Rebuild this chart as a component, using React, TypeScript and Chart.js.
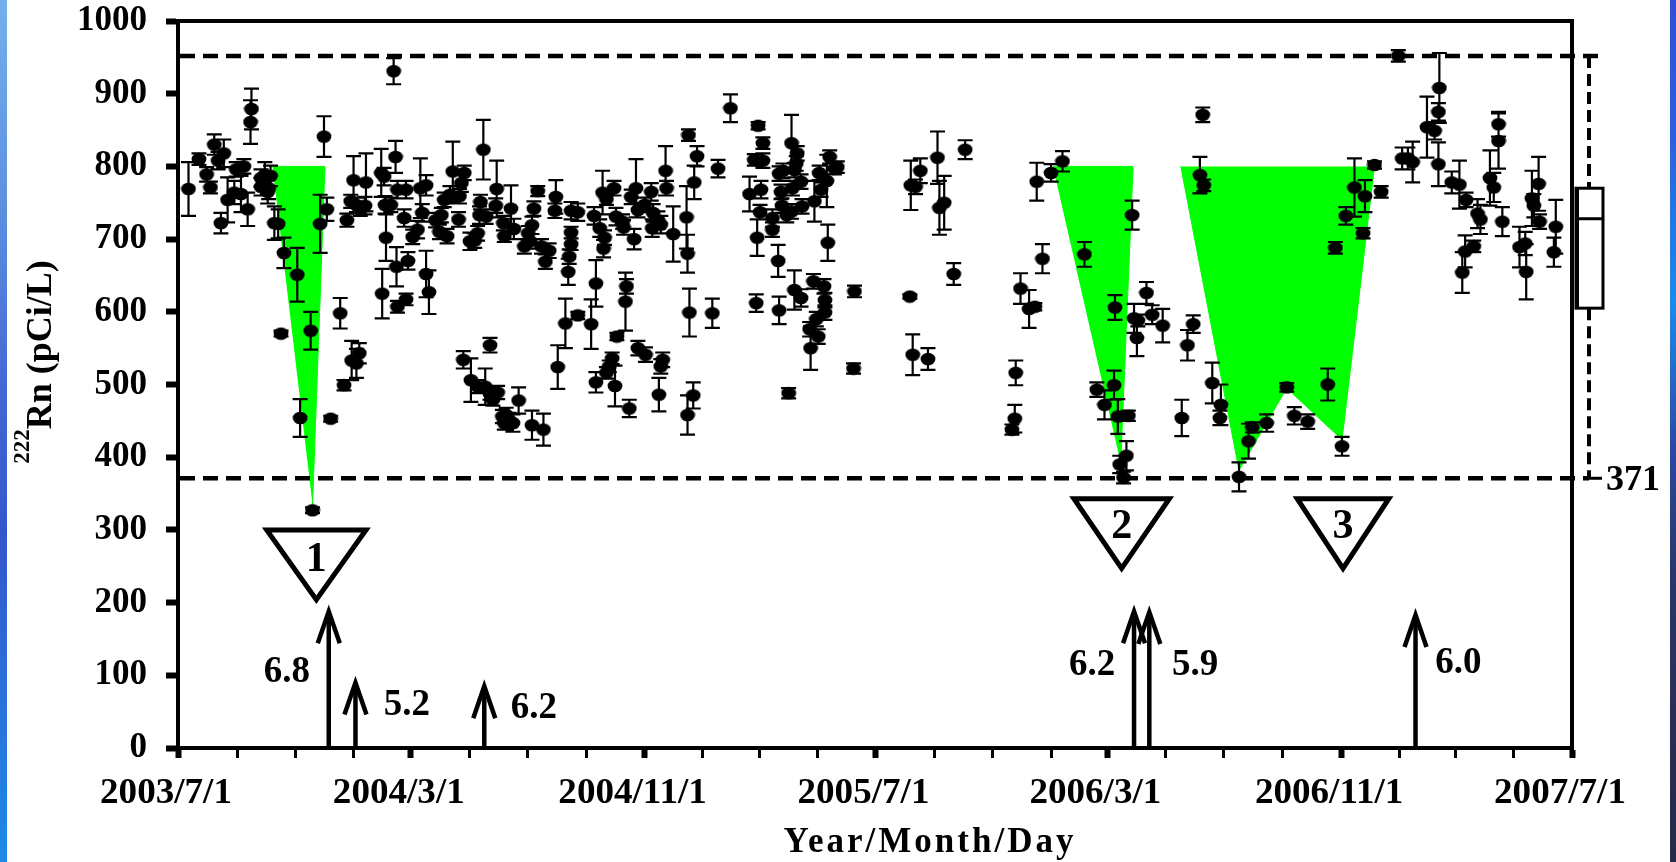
import React, { useEffect, useRef } from "react";
import { Chart, registerables } from "chart.js";

Chart.register(...registerables);

const SERIF = '"Liberation Serif", "Times New Roman", serif';
const W = 1676;
const H = 862;

// ---------- axis definitions ----------
const START_UTC = Date.UTC(2003, 6, 1);
const dayOffset = (s: string) => {
  const [yy, mm, dd] = s.split("/").map(Number);
  return Math.round((Date.UTC(yy, mm - 1, dd) - START_UTC) / 86400000);
};
const xTickDates = [
  "2003/7/1", "2003/9/1", "2003/11/1", "2004/1/1", "2004/3/1", "2004/5/1", "2004/7/1",
  "2004/9/1", "2004/11/1", "2005/1/1", "2005/3/1", "2005/5/1", "2005/7/1", "2005/9/1",
  "2005/11/1", "2006/1/1", "2006/3/1", "2006/5/1", "2006/7/1", "2006/9/1", "2006/11/1",
  "2007/1/1", "2007/3/1", "2007/5/1", "2007/7/1",
];
const xLabelDates = ["2003/7/1", "2004/3/1", "2004/11/1", "2005/7/1", "2006/3/1", "2006/11/1", "2007/7/1"];
const yMin = 0;
const yMax = 1000;
const yStep = 100;

// ---------- 222Rn samples (day = days since 2003/7/1) ----------
const rnDay = [
  11, 22, 30, 34, 38, 42, 45, 48, 52, 59, 61, 66, 69, 73, 76, 77, 87, 87, 91, 94, 95, 97, 101, 105, 108, 111, 125, 128, 139, 141,
  149, 153, 156, 160, 170, 174, 177, 181, 182, 184, 187, 187, 190, 191, 196, 197, 213, 214, 216, 217, 218, 223, 226, 228, 229, 230, 230, 237, 239, 239, 241,
  246, 251, 254, 256, 260, 260, 263, 270, 274, 276, 279, 282, 285, 288, 294, 295, 297, 299, 300, 306, 307, 311, 314, 314, 316, 317, 320, 322, 323, 327,
  327, 330, 333, 334, 335, 340, 341, 342, 342, 344, 347, 349, 351, 352, 357, 363, 367, 369, 371, 371, 373, 377, 381, 383, 385, 389, 395, 396, 398, 406,
  409, 410, 412, 412, 412, 419, 419, 433, 436, 438, 438, 442, 445, 446, 447, 449, 449, 452, 455, 457, 458, 459, 460, 466, 467, 469, 470, 473, 475, 478, 480, 482, 482,
  489, 490, 496, 497, 498, 503, 504, 506, 506, 508, 511, 512, 519, 533, 534, 534, 535, 536, 540, 541, 544, 560, 566, 579, 599, 604, 606, 607, 608, 610,
  611, 613, 613, 623, 623, 629, 630, 630, 632, 633, 634, 638, 640, 643, 643, 644, 646, 646, 648, 649, 653, 653, 654, 662, 663, 666, 667, 669, 671, 672,
  674, 677, 678, 678, 680, 681, 683, 688, 691, 708, 709,
  767, 768, 770, 773, 778, 786, 796, 798, 803, 813, 825, 874, 877, 878, 883, 892, 898, 900, 906, 915, 927, 950, 963, 971,
  981, 982, 985, 987, 991, 994, 996, 1000, 1002, 1005, 1006, 1015, 1021, 1032, 1052, 1058, 1064, 1071, 1074, 1075, 1084, 1092, 1093, 1112, 1122, 1126,
  1141, 1162, 1170, 1184, 1205, 1213,
  1220, 1224, 1233, 1242, 1244, 1254, 1261, 1279, 1283, 1289, 1294, 1309, 1317, 1321, 1321, 1322, 1335, 1343, 1346, 1349, 1350, 1358, 1362, 1365, 1375,
  1379, 1384, 1384, 1388, 1406, 1412, 1413, 1419, 1421, 1426, 1427, 1442, 1444,
];
const rnValue = [
  769, 810, 789, 771, 830, 808, 722, 818, 754, 764, 796, 762, 800, 741, 861, 879, 772, 784, 788, 765, 770, 787, 722, 721, 570, 681, 651, 454, 574, 327,
  721, 841, 741, 453, 598, 499, 726, 752, 533, 781, 747, 529, 543, 740, 746, 778, 791, 625, 786, 747, 702, 747, 931, 813, 662, 607, 768, 729, 617, 768, 670,
  703, 713, 770, 736, 774, 652, 627, 726, 710, 733, 754, 704, 761, 793, 727, 759, 777, 534, 791, 697, 506, 698, 708, 497, 733, 751, 823, 497, 731, 554,
  487, 479, 746, 769, 489, 456, 722, 704, 447, 458, 451, 742, 447, 714, 478, 690, 708, 697, 719, 444, 742, 766, 690, 438, 669, 684, 739, 758, 524, 584,
  655, 676, 739, 709, 693, 737, 595, 583, 732, 639, 503, 715, 764, 687, 702, 755, 516, 525, 536, 770, 498, 731, 566, 724, 716, 614, 635, 467, 758, 700, 770, 740, 550,
  747, 541, 765, 715, 736, 726, 486, 720, 525, 534, 794, 770, 707, 730, 680, 458, 843, 599, 485, 778, 814, 598, 797, 880, 762, 809, 612, 702, 856, 737,
  768, 832, 808, 729, 713, 670, 790, 602, 765, 746, 794, 733, 488, 832, 738, 770, 795, 630, 804, 818, 779, 619, 745, 576, 550, 642, 752, 590, 566, 791,
  768, 635, 616, 599, 780, 695, 813, 797, 799, 522, 628,
  621, 774, 541, 772, 794, 535, 812, 743, 750, 652, 823, 438, 453, 516, 632, 604, 607, 779, 673, 791, 807, 679, 493, 472,
  499, 606, 456, 390, 372, 402, 457, 733, 591, 564, 588, 626, 596, 581, 454, 554, 583, 788, 871, 774, 502, 454, 472, 373, 422, 441,
  447, 496, 457, 449, 500, 688,
  415, 732, 771, 708, 759, 802, 765, 952, 811, 811, 806, 854, 849, 875, 803, 908, 778, 775, 654, 683, 754, 690, 735, 727, 784,
  771, 835, 858, 724, 689, 694, 655, 756, 746, 776, 724, 682, 717,
];
const rnError = [
  37, 8, 10, 8, 14, 12, 14, 19, 31, 16, 10, 25, 10, 23, 30, 28, 12, 12, 18, 16, 15, 14, 23, 20, 4, 21, 37, 26, 26, 4,
  40, 28, 16, 4, 21, 7, 9, 9, 27, 33, 10, 20, 14, 8, 12, 40, 33, 34, 12, 12, 32, 10, 18, 22, 27, 8, 12, 12, 8, 12, 12,
  10, 12, 41, 12, 14, 32, 30, 10, 10, 10, 10, 10, 12, 41, 10, 10, 12, 12, 10, 12, 30, 10, 10, 9, 12, 10, 41, 25, 10, 10,
  8, 8, 10, 39, 9, 9, 10, 8, 9, 10, 10, 32, 12, 14, 18, 10, 10, 10, 12, 20, 10, 7, 10, 22, 10, 10, 10, 23, 30, 34,
  18, 10, 12, 8, 8, 12, 5, 34, 12, 32, 14, 12, 30, 12, 10, 8, 8, 8, 8, 10, 28, 12, 5, 10, 10, 40, 10, 12, 10, 14, 40, 10, 10,
  10, 10, 12, 12, 12, 12, 23, 12, 10, 10, 34, 10, 38, 43, 26, 27, 8, 33, 18, 23, 14, 20, 12, 19, 24, 8, 12, 25, 5, 10,
  12, 8, 10, 12, 10, 22, 10, 19, 10, 10, 10, 10, 7, 39, 10, 10, 10, 27, 10, 10, 10, 12, 10, 10, 30, 10, 28, 10, 10, 10,
  10, 10, 10, 10, 36, 25, 9, 8, 8, 7, 8,
  3, 34, 28, 10, 17, 15, 36, 37, 37, 15, 13, 7, 19, 17, 21, 26, 5, 26, 20, 12, 14, 17, 10, 20,
  20, 17, 24, 12, 8, 20, 7, 20, 20, 25, 8, 15, 13, 23, 25, 21, 12, 25, 10, 8, 28, 10, 28, 20, 24, 7,
  12, 6, 12, 10, 22, 8,
  13, 12, 40, 7, 22, 5, 8, 8, 15, 15, 28, 42, 12, 12, 30, 48, 15, 33, 28, 22, 10, 8, 20, 20, 38,
  20, 38, 17, 20, 28, 16, 38, 38, 16, 37, 10, 20, 37,
];

// ---------- reference levels & box plot ----------
const upperLevel = 952;
const lowerLevel = 371;
const boxWhiskerHigh = 952;
const boxQ3 = 770;
const boxMedian = 728;
const boxQ1 = 605;
const boxWhiskerLow = 371;

// ---------- anomaly (green) regions ----------
const shade1Day = [99, 154, 141];
const shade1Value = [800, 800, 335];
const shade2Day = [917, 1001, 988];
const shade2Value = [800, 800, 392];
const shade3Day = [1051, 1112, 1162, 1220, 1254];
const shade3Value = [800, 382, 495, 424, 800];

// ---------- numbered triangle markers ----------
const markerLabel = ["1", "2", "3"];
const markerDay = [145, 989, 1221];
const markerHalfDays = [52, 50, 48];
const markerTop = [300, 343, 343];
const markerApex = [204, 247, 247];
const markerTextValue = [261, 306, 306];

// ---------- earthquakes (arrows) ----------
const quakeDay = [158, 186, 321, 1002, 1018, 1297];
const quakeArrowTop = [188, 90, 85, 188, 187, 183];
const quakeMag = ["6.8", "5.2", "6.2", "6.2", "5.9", "6.0"];
const quakeLabelDay = [114, 240, 373, 958, 1066, 1342];
const quakeLabelValue = [107, 61, 57, 116, 116, 119];

const xTickDays = xTickDates.map(dayOffset);
const xLabelDays = xLabelDates.map(dayOffset);

const overlayPlugin = {
  id: "overlay",
  afterDatasetsDraw(chart: any) {
    const { ctx, chartArea: a } = chart;
    const x = chart.scales.x;
    const y = chart.scales.y;
    ctx.save();
    // error bars
    ctx.strokeStyle = "#000";
    ctx.lineWidth = 2.2;
    ctx.beginPath();
    rnDay.forEach((d, i) => {
      const px = x.getPixelForValue(d);
      const t = y.getPixelForValue(rnValue[i] + rnError[i]);
      const b = y.getPixelForValue(rnValue[i] - rnError[i]);
      ctx.moveTo(px, t);
      ctx.lineTo(px, b);
      ctx.moveTo(px - 7.5, t);
      ctx.lineTo(px + 7.5, t);
      ctx.moveTo(px - 7.5, b);
      ctx.lineTo(px + 7.5, b);
    });
    ctx.stroke();

    // dashed reference levels
    const wx = a.right + 17;
    ctx.setLineDash([15, 8]);
    ctx.lineWidth = 4.5;
    ctx.beginPath();
    const yu = y.getPixelForValue(upperLevel);
    ctx.moveTo(a.left + 2, yu);
    ctx.lineTo(a.right + 34, yu);
    const yl = y.getPixelForValue(lowerLevel);
    ctx.moveTo(a.left + 2, yl);
    ctx.lineTo(wx, yl);
    ctx.stroke();
    ctx.restore();
  },
  afterDraw(chart: any) {
    const { ctx, chartArea: a } = chart;
    const x = chart.scales.x;
    const y = chart.scales.y;
    ctx.save();
    ctx.strokeStyle = "#000";
    ctx.fillStyle = "#000";

    // top & right frame
    ctx.lineWidth = 4;
    ctx.beginPath();
    ctx.moveTo(a.left - 2, a.top);
    ctx.lineTo(a.right, a.top);
    ctx.lineTo(a.right, a.bottom + 2);
    ctx.stroke();

    // box plot to the right of the frame
    const bx0 = a.right + 4;
    const bx1 = a.right + 31;
    const wx = a.right + 17;
    ctx.lineWidth = 3;
    const yq3 = y.getPixelForValue(boxQ3);
    const yq1 = y.getPixelForValue(boxQ1);
    ctx.strokeRect(bx0, yq3, bx1 - bx0, yq1 - yq3);
    ctx.beginPath();
    const ym = y.getPixelForValue(boxMedian);
    ctx.moveTo(bx0, ym);
    ctx.lineTo(bx1, ym);
    ctx.stroke();
    ctx.lineWidth = 4;
    ctx.beginPath();
    ctx.moveTo(bx0 + 1, yq3);
    ctx.lineTo(bx0 + 1, yq1);
    ctx.stroke();
    ctx.setLineDash([12, 6]);
    ctx.lineWidth = 4;
    ctx.beginPath();
    ctx.moveTo(wx, y.getPixelForValue(boxWhiskerHigh));
    ctx.lineTo(wx, yq3);
    ctx.moveTo(wx, yq1);
    ctx.lineTo(wx, y.getPixelForValue(boxWhiskerLow));
    ctx.stroke();
    ctx.setLineDash([]);
    const yl = y.getPixelForValue(lowerLevel);
    ctx.lineWidth = 3;
    ctx.beginPath();
    ctx.moveTo(wx, yl);
    ctx.lineTo(wx + 13, yl);
    ctx.stroke();
    ctx.font = `bold 36px ${SERIF}`;
    ctx.textAlign = "left";
    ctx.textBaseline = "middle";
    ctx.fillText(String(lowerLevel), wx + 17, yl + 2);

    // earthquake arrows
    ctx.lineWidth = 4.5;
    ctx.lineJoin = "miter";
    quakeDay.forEach((d, i) => {
      const px = x.getPixelForValue(d);
      const y0 = y.getPixelForValue(0);
      const yt = y.getPixelForValue(quakeArrowTop[i]);
      ctx.beginPath();
      ctx.moveTo(px, y0);
      ctx.lineTo(px, yt + 3);
      ctx.stroke();
      ctx.beginPath();
      ctx.moveTo(px - 11, yt + 32);
      ctx.lineTo(px, yt);
      ctx.lineTo(px + 11, yt + 32);
      ctx.stroke();
    });
    ctx.font = `bold 37px ${SERIF}`;
    ctx.textAlign = "center";
    ctx.textBaseline = "middle";
    quakeMag.forEach((m, i) => {
      ctx.fillText(m, x.getPixelForValue(quakeLabelDay[i]), y.getPixelForValue(quakeLabelValue[i]) + 2);
    });

    // numbers inside triangles
    ctx.font = `bold 42px ${SERIF}`;
    markerLabel.forEach((t, i) => {
      ctx.fillText(t, x.getPixelForValue(markerDay[i]), y.getPixelForValue(markerTextValue[i]) + 2);
    });

    // x tick labels
    ctx.font = `bold 35px ${SERIF}`;
    ctx.textBaseline = "alphabetic";
    xLabelDates.forEach((lab, i) => {
      const px = x.getPixelForValue(xLabelDays[i]) - 12;
      ctx.save();
      ctx.translate(px, 803);
      ctx.scale(1.06, 1);
      ctx.fillText(lab, 0, 0);
      ctx.restore();
    });

    // x axis title
    ctx.font = `bold 35px ${SERIF}`;
    (ctx as any).letterSpacing = "3px";
    ctx.textAlign = "center";
    ctx.fillText("Year/Month/Day", 930, 852);
    (ctx as any).letterSpacing = "0px";

    // y axis title with superscript
    ctx.save();
    ctx.translate(51, 362);
    ctx.rotate(-Math.PI / 2);
    ctx.textAlign = "left";
    ctx.textBaseline = "alphabetic";
    const supFont = `bold 23px ${SERIF}`;
    const mainFont = `bold 36px ${SERIF}`;
    ctx.font = supFont;
    const wSup = ctx.measureText("222").width;
    ctx.font = mainFont;
    const mainText = "Rn (pCi/L)";
    const wMain = ctx.measureText(mainText).width;
    const start = -(wSup + wMain) / 2;
    ctx.font = supFont;
    ctx.fillText("222", start, -22);
    ctx.font = mainFont;
    ctx.fillText(mainText, start + wSup, 0);
    ctx.restore();

    ctx.restore();
  },
};

function makeDot(): HTMLCanvasElement {
  const c = document.createElement("canvas");
  c.width = 16;
  c.height = 14;
  const g = c.getContext("2d")!;
  g.fillStyle = "#000";
  g.beginPath();
  g.ellipse(8, 7, 7.4, 6.3, 0, 0, Math.PI * 2);
  g.fill();
  return c;
}

function polygon(days: number[], values: number[]) {
  return days.map((d, i) => ({ x: d, y: values[i] }));
}

export default function App() {
  const ref = useRef<HTMLCanvasElement>(null);

  useEffect(() => {
    const canvas = ref.current;
    if (!canvas) return;
    const dot = makeDot();

    const shadeSet = (days: number[], values: number[]) => ({
      type: "line" as const,
      data: polygon(days, values),
      fill: "shape",
      backgroundColor: "#00ff00",
      borderColor: "#00ff00",
      borderWidth: 1,
      pointRadius: 0,
      tension: 0,
      order: 3,
    });

    const triangleSets = markerDay.map((d, i) => ({
      type: "line" as const,
      data: [
        { x: d - markerHalfDays[i], y: markerTop[i] },
        { x: d + markerHalfDays[i], y: markerTop[i] },
        { x: d, y: markerApex[i] },
        { x: d - markerHalfDays[i], y: markerTop[i] },
        { x: d + markerHalfDays[i], y: markerTop[i] },
      ],
      fill: false,
      borderColor: "#000",
      borderWidth: 5,
      borderJoinStyle: "miter",
      pointRadius: 0,
      tension: 0,
      order: 2,
    }));

    const chart = new Chart(canvas, {
      type: "scatter",
      data: {
        datasets: [
          {
            type: "scatter",
            label: "222Rn",
            data: rnDay.map((d, i) => ({ x: d, y: rnValue[i] })),
            pointStyle: dot as any,
            pointRadius: 6,
            pointHoverRadius: 6,
            backgroundColor: "#000",
            borderColor: "#000",
            order: 0,
          },
          ...(triangleSets as any[]),
          shadeSet(shade1Day, shade1Value),
          shadeSet(shade2Day, shade2Value),
          shadeSet(shade3Day, shade3Value),
        ] as any,
      },
      options: {
        responsive: false,
        maintainAspectRatio: false,
        devicePixelRatio: 1,
        animation: false,
        events: [],
        layout: { padding: { top: 21, right: 104, left: 0, bottom: 0 } },
        plugins: {
          legend: { display: false },
          tooltip: { enabled: false },
          title: { display: false },
        },
        scales: {
          x: {
            type: "linear",
            min: 0,
            max: xTickDays[xTickDays.length - 1],
            afterBuildTicks: (s: any) => {
              s.ticks = xTickDays.map((v) => ({ value: v }));
            },
            afterFit: (s: any) => {
              s.height = H - 748;
              s.paddingLeft = 0;
              s.paddingRight = 0;
            },
            ticks: { display: false, autoSkip: false },
            grid: {
              drawOnChartArea: false,
              drawTicks: true,
              tickLength: 10,
              tickColor: "#000",
              tickWidth: (c: any) => (c.tick && xLabelDays.includes(c.tick.value) ? 6 : 3),
            },
            border: { display: true, color: "#000", width: 4 },
          },
          y: {
            type: "linear",
            min: yMin,
            max: yMax,
            afterFit: (s: any) => {
              s.width = 178;
              s.paddingTop = 0;
              s.paddingBottom = 0;
            },
            ticks: {
              stepSize: yStep,
              color: "#000",
              padding: 19,
              font: { family: SERIF, size: 35, weight: "bold" },
              callback: (v: any) => String(v),
            },
            grid: {
              drawOnChartArea: false,
              drawTicks: true,
              tickLength: 12,
              tickWidth: 6,
              tickColor: "#000",
            },
            border: { display: true, color: "#000", width: 4 },
          },
        },
      } as any,
      plugins: [overlayPlugin],
    });
    return () => chart.destroy();
  }, []);

  return (
    <div style={{ position: "fixed", left: 0, top: 0, width: W, height: H, background: "#fff", overflow: "hidden" }}>
      <canvas ref={ref} width={W} height={H} style={{ position: "absolute", left: 0, top: 0, width: W, height: H }} />
      <div
        style={{
          position: "absolute",
          left: 0,
          top: 0,
          width: 7,
          height: H,
          background: "linear-gradient(to bottom, #74b0ec 0%, #5a8fe0 25%, #4468d4 45%, #3456cc 62%, #2a70da 80%, #1e8ae8 100%)",
        }}
      />
      <div
        style={{
          position: "absolute",
          left: 1670,
          top: 0,
          width: 6,
          height: H,
          background: "linear-gradient(to bottom, #3050d0 0%, #2a60d8 15%, #1f8ae6 35%, #2a4aa0 52%, #2a3468 68%, #252a48 100%)",
        }}
      />
    </div>
  );
}
